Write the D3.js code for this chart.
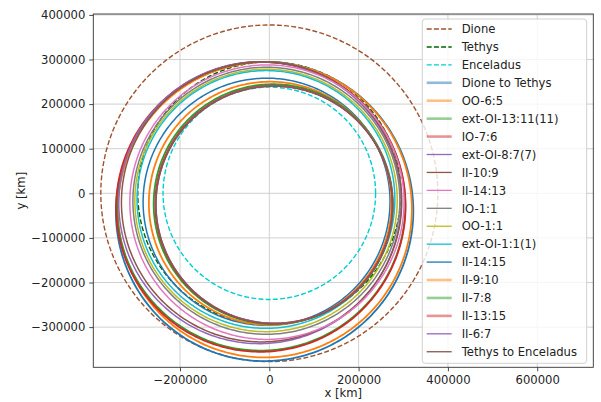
<!DOCTYPE html>
<html>
<head>
<meta charset="utf-8">
<script src="https://cdn.jsdelivr.net/npm/d3@7"></script>
<style>
  html, body { margin: 0; padding: 0; background: #fff; }
  svg { display: block; font-family: "DejaVu Sans", sans-serif; }
</style>
</head>
<body>
<script>
// 衛星の円軌道 (半径 km)
const moonNames = ["Dione", "Tethys", "Enceladus"];
const moonRadii = [377400, 294600, 238000];

// 遷移軌道: 近点距離, 遠点距離, 近点方向 (deg)
const orbitNames = [
  "Dione to Tethys", "OO-6:5", "ext-OI-13:11(11)", "IO-7:6", "ext-OI-8:7(7)",
  "II-10:9", "II-14:13", "IO-1:1", "OO-1:1", "ext-OI-1:1(1)",
  "II-14:15", "II-9:10", "II-7:8", "II-13:15", "II-6:7", "Tethys to Enceladus"
];
const periapsis = [293400, 293000, 289700, 289700, 287000, 288700, 287100, 281400, 276600, 273300,
                   257200, 250100, 243100, 239500, 238500, 238000];
const apoapsis  = [377700, 369500, 358400, 361300, 346500, 340300, 328300, 317400, 311900, 304800,
                   297100, 295200, 294900, 294000, 294300, 294600];
const periDir   = [75.5, 75, 58, 58, 45, 48, 75, 68.5, 65.5, 61.5,
                   72, 95, 110, 112, 114, 113];

const xTicks = [-200000, 0, 200000, 400000, 600000];
const yTicks = [-300000, -200000, -100000, 0, 100000, 200000, 300000, 400000];

const width = 601, height = 402;
const margin = { left: 93.3, right: 601 - 593.3, top: 14, bottom: 402 - 367.3 };

const tab10 = d3.schemeCategory10;
const moonColors = ["sienna", "darkgreen", "darkturquoise"];
const thick = new Set(["Dione to Tethys", "OO-6:5", "ext-OI-13:11(11)", "IO-7:6", "II-9:10", "II-7:8", "II-13:15"]);

const svg = d3.select("body").append("svg")
  .attr("width", width)
  .attr("height", height);

const x = d3.scaleLinear().domain([-394200, 725600]).range([margin.left, width - margin.right]);
const y = d3.scaleLinear().domain([-390100, 402000]).range([height - margin.bottom, margin.top]);

const fmt = d3.format("d");

// グリッド
svg.append("g").selectAll("line").data(xTicks).join("line")
  .attr("x1", d => x(d)).attr("x2", d => x(d))
  .attr("y1", margin.top).attr("y2", height - margin.bottom)
  .attr("stroke", "#cbcbcb").attr("stroke-width", 0.9);
svg.append("g").selectAll("line").data(yTicks).join("line")
  .attr("y1", d => y(d)).attr("y2", d => y(d))
  .attr("x1", margin.left).attr("x2", width - margin.right)
  .attr("stroke", "#cbcbcb").attr("stroke-width", 0.9);

svg.append("clipPath").attr("id", "clip").append("rect")
  .attr("x", margin.left).attr("y", margin.top)
  .attr("width", width - margin.left - margin.right)
  .attr("height", height - margin.top - margin.bottom);

const plot = svg.append("g").attr("clip-path", "url(#clip)");
const line = d3.line().x(d => x(d[0])).y(d => y(d[1]));
const angles = d3.range(0, 361, 1);

// 衛星軌道 (破線)
moonNames.forEach((name, i) => {
  const pts = angles.map(a => {
    const t = a * Math.PI / 180;
    return [moonRadii[i] * Math.cos(t), moonRadii[i] * Math.sin(t)];
  });
  plot.append("path")
    .attr("d", line(pts))
    .attr("fill", "none")
    .attr("stroke", moonColors[i])
    .attr("stroke-width", 1.4)
    .attr("stroke-dasharray", "5,2.2");
});

// 遷移軌道 (土星が焦点の楕円)
orbitNames.forEach((name, i) => {
  const rp = periapsis[i], ra = apoapsis[i];
  const e = (ra - rp) / (ra + rp);
  const p = 2 * rp * ra / (ra + rp);
  const w = periDir[i] * Math.PI / 180;
  const pts = angles.map(a => {
    const t = a * Math.PI / 180;
    const r = p / (1 + e * Math.cos(t - w));
    return [r * Math.cos(t), r * Math.sin(t)];
  });
  plot.append("path")
    .attr("d", line(pts))
    .attr("fill", "none")
    .attr("stroke", tab10[i % 10])
    .attr("stroke-width", thick.has(name) ? 1.8 : 1.5);
});

// 軸
const xAxis = svg.append("g")
  .attr("transform", `translate(0,${height - margin.bottom})`)
  .call(d3.axisBottom(x).tickValues(xTicks).tickFormat(fmt).tickSizeOuter(0).tickSize(4).tickPadding(4));
const yAxis = svg.append("g")
  .attr("transform", `translate(${margin.left},0)`)
  .call(d3.axisLeft(y).tickValues(yTicks).tickFormat(fmt).tickSizeOuter(0).tickSize(4).tickPadding(4));
[xAxis, yAxis].forEach(g => {
  g.select(".domain").remove();
  g.selectAll("text").attr("font-size", "11.6px").attr("fill", "#222")
    .attr("font-family", "DejaVu Sans, sans-serif");
  g.selectAll(".tick line").attr("stroke", "#333").attr("stroke-width", 0.9);
});

// 枠
svg.append("rect")
  .attr("x", margin.left).attr("y", margin.top)
  .attr("width", width - margin.left - margin.right)
  .attr("height", height - margin.top - margin.bottom)
  .attr("fill", "none").attr("stroke", "#333").attr("stroke-width", 0.9);

// 軸ラベル
svg.append("text")
  .attr("x", (margin.left + width - margin.right) / 2)
  .attr("y", 397)
  .attr("text-anchor", "middle")
  .attr("font-size", "11.6px").attr("fill", "#222")
  .text("x [km]");
svg.append("text")
  .attr("transform", `translate(25,${(margin.top + height - margin.bottom) / 2}) rotate(-90)`)
  .attr("text-anchor", "middle")
  .attr("font-size", "11.6px").attr("fill", "#222")
  .text("y [km]");

// 凡例
const legendItems = moonNames.map((n, i) => ({ name: n, color: moonColors[i], dash: true }))
  .concat(orbitNames.map((n, i) => ({ name: n, color: tab10[i % 10], dash: false })));
const lg = svg.append("g");
lg.append("rect")
  .attr("x", 422.3).attr("y", 19)
  .attr("width", 164.4).attr("height", 344.3)
  .attr("rx", 3)
  .attr("fill", "white").attr("fill-opacity", 0.8)
  .attr("stroke", "#cccccc").attr("stroke-width", 0.9);
legendItems.forEach((d, i) => {
  const ly = 29 + i * 17.93;
  const isThick = thick.has(d.name);
  lg.append("line")
    .attr("x1", 426.7).attr("x2", 451.7)
    .attr("y1", ly).attr("y2", ly)
    .attr("stroke", d.color)
    .attr("stroke-width", d.dash ? 1.4 : (isThick ? 2.6 : 1.3))
    .attr("stroke-opacity", isThick ? 0.5 : 1)
    .attr("stroke-dasharray", d.dash ? "5,2.2" : null);
  lg.append("text")
    .attr("x", 461.7).attr("y", ly + 4.2)
    .attr("font-size", "11.6px").attr("fill", "#222")
    .text(d.name);
});
</script>
</body>
</html>
